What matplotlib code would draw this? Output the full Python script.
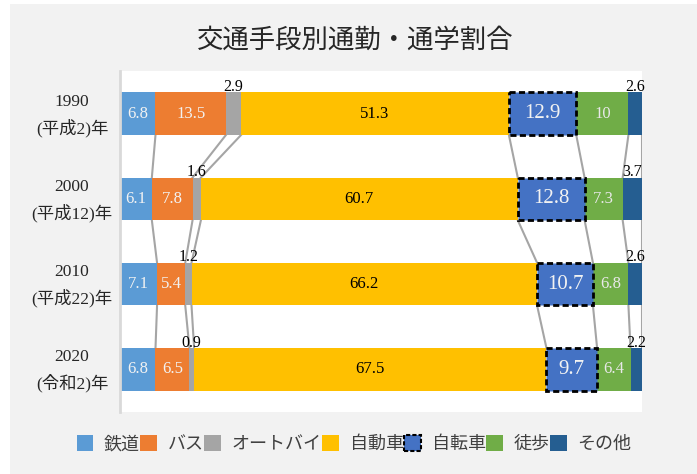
import numpy as np
import matplotlib.pyplot as plt
from matplotlib.patches import Patch, Rectangle
from matplotlib.transforms import blended_transform_factory

# 交通手段別通勤・通学割合 (%)
years = ['1990\n(平成2)年', '2000\n(平成12)年', '2010\n(平成22)年', '2020\n(令和2)年']
modes = ['鉄道', 'バス', 'オートバイ', '自動車', '自転車', '徒歩', 'その他']
rail = [6.8, 6.1, 7.1, 6.8]
bus = [13.5, 7.8, 5.4, 6.5]
moto = [2.9, 1.6, 1.2, 0.9]
car = [51.3, 60.7, 66.2, 67.5]
bike = [12.9, 12.8, 10.7, 9.7]
walk = [10, 7.3, 6.8, 6.4]
other = [2.6, 3.7, 2.6, 2.2]

series = [rail, bus, moto, car, bike, walk, other]
colors = ['#5B9BD5', '#ED7D31', '#A5A5A5', '#FFC000', '#4472C4', '#70AD47', '#255E91']
text_colors = ['#F2F2F2', '#F2F2F2', 'black', 'black', '#F2F2F2', '#E8E8E8', 'black']
above = [False, False, True, False, False, False, True]

serif = ['Liberation Serif', 'Noto Sans CJK JP']
sans = ['Noto Sans CJK JP', 'DejaVu Sans']

fig = plt.figure(figsize=(6.97, 4.74), dpi=100)
fig.patch.set_facecolor('white')
fig.patches.append(Rectangle((10 / 697, 0), 1, 470 / 474, transform=fig.transFigure,
                             facecolor='#F2F2F2', edgecolor='none', zorder=-1))

ax = fig.add_axes([120 / 697, 1 - 412 / 474, 522 / 697, 341 / 474])
ax.set_facecolor('white')

y = np.arange(len(years))
h = 0.5
data = np.array(series)
cum = np.cumsum(data, axis=0)
left = cum - data

for k in range(len(series)):
    if k == 4:
        ax.barh(y, data[k], left=left[k], height=h, color=colors[k],
                edgecolor='black', linestyle=(0, (2.2, 1.2)), linewidth=2, zorder=3)
    else:
        ax.barh(y, data[k], left=left[k], height=h, color=colors[k], zorder=2)
    for i in range(len(years)):
        v = data[k, i]
        xc = left[k, i] + v / 2
        if above[k]:
            ax.text(xc, i - h / 2 + 0.03, f'{v:g}', ha='center', va='bottom',
                    fontsize=11.5, family=serif, color='black', zorder=5)
        else:
            ax.text(xc, i, f'{v:g}', ha='center', va='center',
                    fontsize=15 if k == 4 else 12, family=serif,
                    color=text_colors[k], zorder=5)

# series lines between bars
for k in range(len(series)):
    for i in range(len(years) - 1):
        ax.plot([cum[k, i], cum[k, i + 1]], [i + h / 2, i + 1 - h / 2],
                color='#A5A5A5', linewidth=1.5, zorder=1)

ax.set_xlim(0, 100)
ax.set_ylim(3.5, -0.5)
ax.set_xticks([])
ax.set_yticks([])
for s in ['top', 'right', 'bottom']:
    ax.spines[s].set_visible(False)
ax.spines['left'].set_color('#D9D9D9')
ax.spines['left'].set_linewidth(2)

trans = blended_transform_factory(ax.transAxes, ax.transData)
for i, lab in enumerate(years):
    ax.text(-0.092, i + 0.02, lab, transform=trans, ha='center', va='center',
            fontsize=12.5, family=serif, linespacing=1.6, color='#262626')

fig.text(355 / 697, 1 - 40 / 474, '交通手段別通勤・通学割合', ha='center', va='center',
         fontsize=19, family=sans, color='#262626')

handles = []
for k in range(len(modes)):
    if k == 4:
        handles.append(Patch(facecolor=colors[k], edgecolor='black', linestyle=(0, (2, 1)), linewidth=1.5))
    else:
        handles.append(Patch(facecolor=colors[k], edgecolor='none'))
leg = fig.legend(handles, modes, loc='center', bbox_to_anchor=(354 / 697, 1 - 444 / 474),
                 ncol=7, frameon=False, handlelength=0.9, handleheight=1.0,
                 handletextpad=0.6, columnspacing=0.05, borderaxespad=0,
                 prop={'family': sans, 'size': 13})
for t in leg.get_texts():
    t.set_color('#404040')

fig.savefig('out.png', dpi=100)
